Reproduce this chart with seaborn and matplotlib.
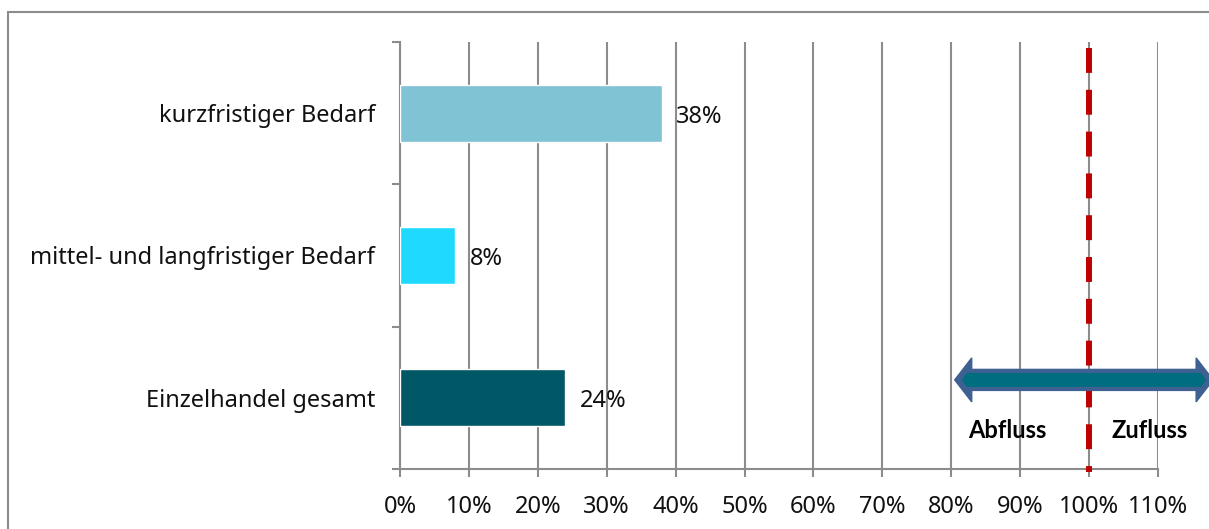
import numpy as np
import pandas as pd
import matplotlib
matplotlib.use("Agg")
import matplotlib.pyplot as plt
from matplotlib.patches import Polygon, Rectangle
from matplotlib.transforms import IdentityTransform
import seaborn as sns

# Kaufkraftbindung nach Bedarfsbereich
categories = ["kurzfristiger Bedarf", "mittel- und langfristiger Bedarf", "Einzelhandel gesamt"]
shares = [0.38, 0.08, 0.24]
bar_colors = ["#7FC3D4", "#1FD9FF", "#005766"]
x_ticks = [0.0, 0.1, 0.2, 0.3, 0.4, 0.5, 0.6, 0.7, 0.8, 0.9, 1.0, 1.1]
reference_level = 1.0
flow_labels = ["Abfluss", "Zufluss"]

sns.set_theme(style="white")
plt.rcParams["font.family"] = ["Noto Sans", "DejaVu Sans"]

W, H = 1209, 529
fig = plt.figure(figsize=(W / 100, H / 100), dpi=100)
ax = fig.add_axes([400 / W, (H - 469) / H, 758 / W, 427 / H])

df = pd.DataFrame({"Bereich": categories, "Anteil": shares})
sns.barplot(data=df, x="Anteil", y="Bereich", hue="Bereich",
            palette=bar_colors, legend=False, width=0.4, saturation=1,
            ax=ax, zorder=3)

grid_col = "#8C8C8C"
txt_col = "#111111"
ax.set_xlim(0, 1.1)
ax.set_ylim(2.5, -0.5)
ax.set_xticks(x_ticks)
ax.set_xticklabels([f"{t:.0%}" for t in x_ticks], fontsize=17, color=txt_col)
ax.set_xlabel("")
ax.set_ylabel("")
ax.grid(axis="x", color=grid_col, lw=1.5)
ax.grid(axis="y", visible=False)
ax.set_axisbelow(True)

for s in ["top", "right"]:
    ax.spines[s].set_visible(False)
for s in ["left", "bottom"]:
    ax.spines[s].set_color(grid_col)
    ax.spines[s].set_linewidth(1.5)

ax.tick_params(axis="x", which="major", direction="out", length=6,
               width=1.5, color=grid_col, pad=13, bottom=True)
ax.set_yticks(range(len(categories)))
ax.set_yticklabels(categories, fontsize=17, color=txt_col)
ax.tick_params(axis="y", which="major", length=0, pad=18)
ax.set_yticks([-0.5, 0.5, 1.5, 2.5], minor=True)
ax.tick_params(axis="y", which="minor", direction="out", length=6,
               width=1.5, color=grid_col, left=True)

# value labels
for i, v in enumerate(shares):
    ax.text(v + 0.021, i + 0.025, f"{v:.0%}", va="center", ha="left",
            fontsize=17, color=txt_col, zorder=4)

# reference line at 100 %, dashed from the top downwards
ax.plot([reference_level, reference_level], [-0.458, 2.52], color="#C00000",
        lw=4.3, dashes=(4.17, 2.83), solid_capstyle="butt",
        dash_capstyle="butt", zorder=5, clip_on=False)

# double-headed flow arrow (built in pixel space)
def to_px(x, y):
    return ax.transData.transform((x, y))

y_arrow = 1.874
xl, yc = to_px(0.805, y_arrow)
xr, _ = to_px(1.18, y_arrow)
head_len, head_half, shaft_half, inner_half = 17, 22, 10.5, 7.0
outline = [
    (xl, yc), (xl + head_len, yc + head_half), (xl + head_len, yc + shaft_half),
    (xr - head_len, yc + shaft_half), (xr - head_len, yc + head_half), (xr, yc),
    (xr - head_len, yc - head_half), (xr - head_len, yc - shaft_half),
    (xl + head_len, yc - shaft_half), (xl + head_len, yc - head_half),
]
fig.patches.append(Polygon(outline, closed=True, facecolor="#3E6191",
                           edgecolor="#3E6191", lw=1, transform=IdentityTransform(),
                           figure=fig, zorder=6))
inner = [
    (xl + 7, yc), (xl + 12, yc + inner_half), (xr - 12, yc + inner_half),
    (xr - 7, yc), (xr - 12, yc - inner_half), (xl + 12, yc - inner_half),
]
fig.patches.append(Polygon(inner, closed=True, facecolor="#006E80",
                           edgecolor="none", transform=IdentityTransform(),
                           figure=fig, zorder=7))

for xpos, label in zip([0.882, 1.088], flow_labels):
    ax.text(xpos, 2.23, label, ha="center", va="center", fontsize=17,
            fontweight="bold", family=["Lato", "DejaVu Sans"],
            color="black", zorder=8, clip_on=False)

# outer frame
fig.patches.append(Rectangle((8 / W, -0.2), 1.5, (H - 12) / H + 0.2,
                             transform=fig.transFigure, fill=False,
                             edgecolor="#8C8C8C", lw=1.5, figure=fig))

fig.savefig("out.png", dpi=100)
